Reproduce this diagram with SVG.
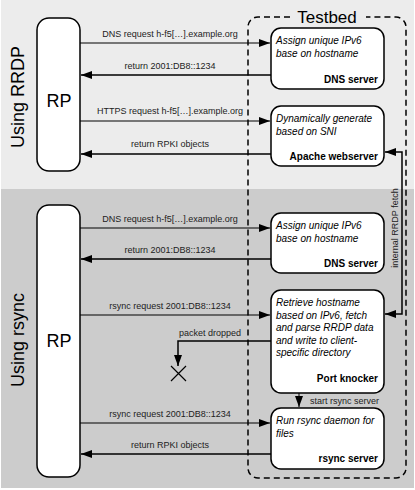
<svg xmlns="http://www.w3.org/2000/svg" width="415" height="490" viewBox="0 0 415 490">
<style>
.node{fill:#fff;stroke:#000;stroke-width:1.5}
.it{font-family:"Liberation Sans",Arial,sans-serif;font-size:10px;font-style:italic;fill:#000}
.bd{font-family:"Liberation Sans",Arial,sans-serif;font-size:10px;font-weight:bold;fill:#000;text-anchor:end}
.lbl{font-family:"Liberation Sans",Arial,sans-serif;font-size:9px;fill:#222;text-anchor:middle}
.big{font-family:"Liberation Sans",Arial,sans-serif;font-size:18px;fill:#000;text-anchor:middle}
.req{stroke:#000;stroke-width:1;fill:none}
.ret{stroke:#000;stroke-width:1.5;fill:none}
</style>
<defs>
<marker id="ah" markerUnits="userSpaceOnUse" markerWidth="12" markerHeight="9" refX="11" refY="4" orient="auto-start-reverse">
<path d="M0,0 L11,4 L0,8 z" fill="#000"/>
</marker>
</defs>
<rect x="0" y="0" width="415" height="490" fill="#fff"/>
<rect x="1" y="0" width="413" height="189" fill="#ececec"/>
<rect x="1" y="189" width="413" height="299" fill="#cccccc"/>

<text class="big" transform="translate(24,97) rotate(-90)">Using RRDP</text>
<text class="big" transform="translate(24,340) rotate(-90)">Using rsync</text>

<g id="testbed">
<path d="M290,17 L258,17 A10,10 0 0 0 248,27 L248,468 A10,10 0 0 0 258,478 L396,478 A10,10 0 0 0 406,468 L406,27 A10,10 0 0 0 396,17 L366,17" fill="none" stroke="#000" stroke-width="1.5" stroke-dasharray="6,4"/>
<text x="327" y="23" font-family="'Liberation Sans',Arial,sans-serif" font-size="17" text-anchor="middle">Testbed</text>
</g>

<g id="rp1">
<rect class="node" x="37" y="18" width="43" height="153" rx="12"/>
<text class="big" x="59" y="107">RP</text>
</g>
<g id="rp2">
<rect class="node" x="37" y="205" width="43" height="272" rx="12"/>
<text class="big" x="59" y="347">RP</text>
</g>

<g id="dns1">
<rect class="node" x="271" y="28" width="113" height="61" rx="10"/>
<text class="it" x="276" y="44">Assign unique IPv6</text>
<text class="it" x="276" y="56.5">base on hostname</text>
<text class="bd" x="378" y="83">DNS server</text>
</g>
<g id="apache">
<rect class="node" x="271" y="106" width="113" height="60" rx="10"/>
<text class="it" x="276" y="122">Dynamically generate</text>
<text class="it" x="276" y="134.5">based on SNI</text>
<text class="bd" x="378" y="160">Apache webserver</text>
</g>
<g id="dns2">
<rect class="node" x="271" y="213" width="113" height="60" rx="10"/>
<text class="it" x="276" y="229">Assign unique IPv6</text>
<text class="it" x="276" y="241.5">base on hostname</text>
<text class="bd" x="378" y="267">DNS server</text>
</g>
<g id="portknocker">
<rect class="node" x="271" y="290" width="113" height="103" rx="10"/>
<text class="it" x="276" y="306">Retrieve hostname</text>
<text class="it" x="276" y="318.5">based on IPv6, fetch</text>
<text class="it" x="276" y="331">and parse RRDP data</text>
<text class="it" x="276" y="343.5">and write to client-</text>
<text class="it" x="276" y="356">specific directory</text>
<text class="bd" x="378" y="382">Port knocker</text>
</g>
<g id="rsyncserver">
<rect class="node" x="271" y="408" width="113" height="61" rx="10"/>
<text class="it" x="276" y="424">Run rsync daemon for</text>
<text class="it" x="276" y="436.5">files</text>
<text class="bd" x="378" y="462">rsync server</text>
</g>

<g id="connectors">
<line class="req" x1="80" y1="43" x2="270" y2="43" marker-end="url(#ah)"/>
<text class="lbl" x="170" y="37">DNS request h-f5[…].example.org</text>
<line class="ret" x1="271" y1="75" x2="81" y2="75" marker-end="url(#ah)"/>
<text class="lbl" x="170" y="69">return 2001:DB8::1234</text>
<line class="req" x1="80" y1="121" x2="270" y2="121" marker-end="url(#ah)"/>
<text class="lbl" x="170" y="114">HTTPS request h-f5[…].example.org</text>
<line class="ret" x1="271" y1="154" x2="81" y2="154" marker-end="url(#ah)"/>
<text class="lbl" x="170" y="147">return RPKI objects</text>

<line class="req" x1="80" y1="228" x2="270" y2="228" marker-end="url(#ah)"/>
<text class="lbl" x="170" y="222">DNS request h-f5[…].example.org</text>
<line class="ret" x1="271" y1="259" x2="81" y2="259" marker-end="url(#ah)"/>
<text class="lbl" x="170" y="253">return 2001:DB8::1234</text>
<line class="req" x1="80" y1="315" x2="270" y2="315" marker-end="url(#ah)"/>
<text class="lbl" x="170" y="309">rsync request 2001:DB8::1234</text>
<polyline class="ret" points="271,341 178,341 178,366" marker-end="url(#ah)"/>
<text class="lbl" x="210" y="336">packet dropped</text>
<path d="M171,366 L186,381 M186,366 L171,381" stroke="#000" stroke-width="1.2" fill="none"/>
<line class="req" x1="80" y1="423" x2="270" y2="423" marker-end="url(#ah)"/>
<text class="lbl" x="170" y="417">rsync request 2001:DB8::1234</text>
<line class="ret" x1="271" y1="454" x2="81" y2="454" marker-end="url(#ah)"/>
<text class="lbl" x="170" y="448">return RPKI objects</text>

<line class="req" x1="299" y1="393" x2="299" y2="407" marker-end="url(#ah)"/>
<text class="lbl" x="310" y="404" text-anchor="start" style="text-anchor:start">start rsync server</text>

<polyline class="ret" points="385,152 402,152 402,314 385,314" marker-start="url(#ah)" marker-end="url(#ah)"/>
<text class="lbl" transform="translate(398,228) rotate(-90)">internal RRDP fetch</text>
</g>
</svg>
